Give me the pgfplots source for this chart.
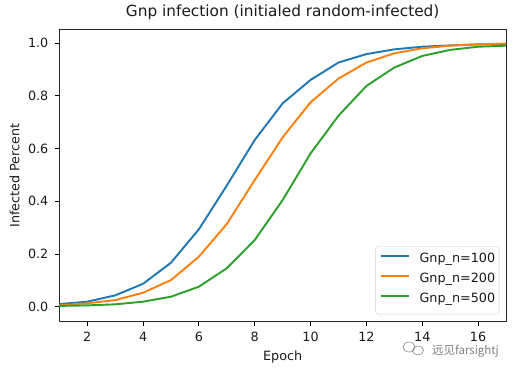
\documentclass[border=0pt]{standalone}
\usepackage{fontspec}
\setmainfont{DejaVu Sans}
\newfontfamily\cjk{Noto Sans CJK SC}
\usepackage{pgfplots}
\pgfplotsset{compat=1.18}
\definecolor{tabblue}{HTML}{1F77B4}
\definecolor{taborange}{HTML}{FF7F0E}
\definecolor{tabgreen}{HTML}{2CA02C}
\definecolor{txt}{HTML}{1A1A1A}
\begin{document}
\begin{tikzpicture}[x=1bp,y=1bp]
\path (0,0) rectangle (519,371);
\begin{axis}[
  at={(59.3bp,50bp)}, anchor=south west,
  scale only axis, width=446.7bp, height=291bp,
  xmin=1, xmax=17, ymin=-0.0543, ymax=1.0505,
  xtick={2,4,...,16},
  ytick={0,0.2,0.4,0.6,0.8,1.0},
  /pgf/number format/assume math mode=true,
  tick align=outside, tick pos=left,
  major tick length=4.5bp,
  tick style={black, line width=1bp},
  ticklabel style={font=\fontsize{12.8}{15}\selectfont, text=txt},
  yticklabel style={/tikz/inner xsep=6.3bp, /pgf/number format/fixed, /pgf/number format/fixed zerofill, /pgf/number format/precision=1},
  xticklabel style={/tikz/inner ysep=6.8bp},
  axis line style={black!85, line width=1bp},
  title={Gnp infection (initialed random-infected)},
  title style={font=\fontsize{15.4}{18}\selectfont, text=txt, at={(axis description cs:0.5,1.0275)}, anchor=base, inner sep=0pt},
  xlabel={Epoch}, ylabel={Infected Percent},
  label style={font=\fontsize{12.8}{15}\selectfont, text=txt, inner sep=0pt},
  xlabel style={at={(axis description cs:0.5,-0.134)}, anchor=base},
  ylabel style={at={(axis description cs:-0.0895,0.5)}, anchor=base},
  legend style={at={(axis description cs:1,0)}, anchor=south east, xshift=-6.7bp, yshift=6.7bp,
    font=\fontsize{12.8}{15}\selectfont, text=txt, draw=black!20, fill=white, rounded corners=2.5bp,
    inner xsep=4bp, inner ysep=3.8bp, row sep=0bp,
    nodes={inner xsep=0bp, inner ysep=2.5bp, text height=9.5bp, text depth=5.5bp},
    /tikz/every odd column/.append style={column sep=10bp}},
  legend cell align=left,
  legend image code/.code={\draw[#1] (0bp,4.3bp) -- (28bp,4.3bp);},
  every axis plot/.append style={line width=1.92bp, line join=round},
]
\addplot[tabblue] coordinates {(1,0.010)(2,0.019)(3,0.043)(4,0.087)(5,0.167)(6,0.294)(7,0.460)(8,0.633)(9,0.772)(10,0.861)(11,0.927)(12,0.959)(13,0.977)(14,0.987)(15,0.992)(16,0.996)(17,0.997)};
\addplot[taborange] coordinates {(1,0.005)(2,0.013)(3,0.025)(4,0.053)(5,0.101)(6,0.190)(7,0.314)(8,0.481)(9,0.643)(10,0.776)(11,0.866)(12,0.927)(13,0.962)(14,0.981)(15,0.991)(16,0.996)(17,0.999)};
\addplot[tabgreen] coordinates {(1,0.003)(2,0.005)(3,0.009)(4,0.019)(5,0.038)(6,0.076)(7,0.146)(8,0.253)(9,0.405)(10,0.582)(11,0.725)(12,0.838)(13,0.908)(14,0.952)(15,0.975)(16,0.987)(17,0.991)};
\legend{Gnp\_n=100,Gnp\_n=200,Gnp\_n=500}
\end{axis}
\draw[black!40, line width=0.7bp] (409,24) ellipse (6 and 5) (418,20.5) ellipse (5.5 and 4.5);
\node[anchor=west, text=black!50, inner sep=0, text height=8.5bp, text depth=1bp] at (432,20.5) {\fontsize{11.5}{13}\selectfont\cjk 远见farsightj};
\end{tikzpicture}
\end{document}
